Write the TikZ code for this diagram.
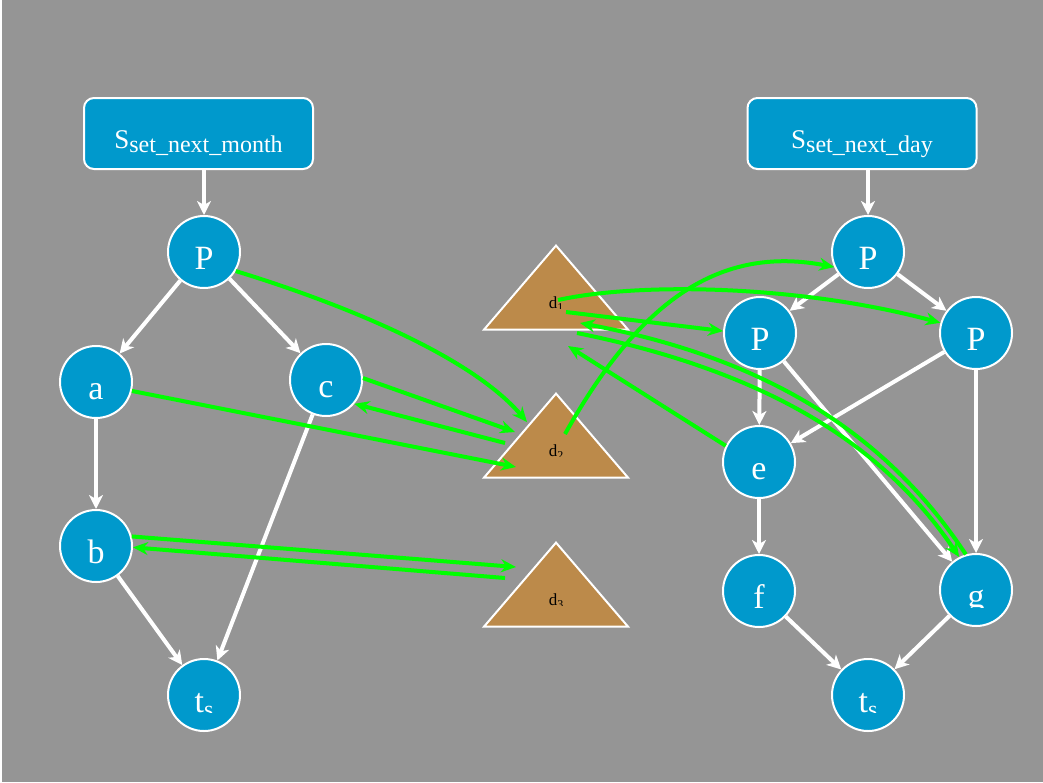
\documentclass[tikz,border=0pt]{standalone}
\usepackage{fontspec}
\setmainfont{Liberation Serif}
\usetikzlibrary{shapes.geometric,arrows.meta,calc}

\definecolor{bg}{HTML}{959595}
\definecolor{nodeblue}{HTML}{0099CC}
\definecolor{tribrown}{HTML}{BC8A4A}
\definecolor{linkgreen}{HTML}{00FF00}

% lowered subscript in its own size
\newcommand\subsc[3]{{\fontsize{#1}{#1}\selectfont\raisebox{-#2}{#3}}}

% text cut off at its own baseline: name, anchor node, baseline offset, style, text
\newcommand\basecut[5]{%
  \coordinate (#1-b) at ($(#2)+(0,#3)$);
  \begin{scope}
    \clip ($(#1-b)+(-40,-45)$) rectangle ($(#1-b)+(40,0)$);
    \node[#4,anchor=base,inner sep=0pt] (#1) at (#1-b) {#5};
  \end{scope}}

\begin{document}
\begin{tikzpicture}[x=1pt,y=-1pt,
  state/.style={circle,draw=white,line width=2pt,fill=nodeblue,minimum size=72pt,
    inner sep=0pt,text=white,font=\fontsize{34pt}{40pt}\selectfont,
    text height=34pt,text depth=0pt},
  header/.style={rectangle,rounded corners=10pt,draw=white,line width=2pt,
    fill=nodeblue,minimum width=229pt,minimum height=71pt,inner sep=0pt},
  headtext/.style={text=white,font=\fontsize{27pt}{30pt}\selectfont,
    inner sep=0pt,anchor=base},
  store/.style={isosceles triangle,isosceles triangle stretches,
    shape border rotate=90,minimum width=144pt,minimum height=84pt,
    draw=white,line width=2pt,fill=tribrown,inner sep=0pt,anchor=apex},
  circtext/.style={text=white,font=\fontsize{34pt}{40pt}\selectfont},
  tritext/.style={text=black,font=\fontsize{17pt}{20pt}\selectfont},
  flow/.style={draw=white,line width=4pt,-{Stealth[length=14pt,width=14pt,inset=4pt]}},
  link/.style={draw=linkgreen,line width=4pt,-{Stealth[length=15pt,width=13pt]}}
]
% canvas
\useasboundingbox (0,0) rectangle (1043,782);
\fill[white] (0,0) rectangle (1043,782);
\fill[bg] (2,0) rectangle (1043,782);

% ---- set_next_month graph ----
\node[header] (mbox) at (198.5,133.5) {};
\node[headtext] (mboxtext) at ($(mbox.center)+(0,14.5)$) {S\subsc{24pt}{4.5pt}{set\_next\_month}};
\node[state] (mP) at (204,252) {P};
\node[state] (ma) at (96,382) {a};
\node[state] (mc) at (326,380) {c};
\node[state] (mb) at (96,546) {b};
\node[state] (mts) at (204,695) {};
\basecut{mtstext}{mts}{17}{circtext}{t\subsc{24pt}{5pt}{s}}

% ---- set_next_day graph ----
\node[header] (dbox) at (862,133.5) {};
\node[headtext] (dboxtext) at ($(dbox.center)+(0,14.5)$) {S\subsc{24pt}{4.5pt}{set\_next\_day}};
\node[state] (dP0) at (868,252) {P};
\node[state] (dP1) at (760,333) {P};
\node[state] (dP2) at (976,333) {P};
\node[state] (de) at (759,462) {e};
\node[state] (df) at (759,591) {f};
\node[state] (dg) at (976,590) {};
\basecut{dgtext}{dg}{17}{circtext}{g}
\node[state] (dts) at (868,695) {};
\basecut{dtstext}{dts}{17}{circtext}{t\subsc{24pt}{5pt}{s}}

% ---- data stores ----
\node[store] (d1) at (556,243) {};
\node[store] (d2) at (556,391) {};
\node[store] (d3) at (556,540) {};
\basecut{d1text}{d1.apex}{65}{tritext}{d\subsc{12pt}{3pt}{1}}
\basecut{d2text}{d2.apex}{65}{tritext}{d\subsc{12pt}{3pt}{2}}
\basecut{d3text}{d3.apex}{65}{tritext}{d\subsc{12pt}{3pt}{3}}

% ---- control flow ----
\draw[flow] (mbox.south -| mP) -- (mP);
\draw[flow] (mP) -- (ma);
\draw[flow] (mP) -- (mc);
\draw[flow] (ma) -- (mb);
\draw[flow] (mb) -- (mts);
\draw[flow] (mc) -- (mts);

\draw[flow] (dbox.south -| dP0) -- (dP0);
\draw[flow] (dP0) -- (dP1);
\draw[flow] (dP0) -- (dP2);
\draw[flow] (dP1) -- (de);
\draw[flow] (dP1) -- (dg);
\draw[flow] (dP2) -- (de);
\draw[flow] (dP2) -- (dg);
\draw[flow] (de) -- (df);
\draw[flow] (df) -- (dts);
\draw[flow] (dg) -- (dts);

% ---- data links ----
\draw[link] (mP.-31) .. controls (340,303) and (470,355) .. ($(d2.apex)+(-29,31)$);
\draw[link] (ma.-14) -- ($(d2.apex)+(-40,76)$);
\draw[link] (mc.3) -- ($(d2.apex)+(-41,41)$);
\draw[link] ($(d2.apex)+(-51,52)$) -- (mc.-40);
\draw[link] (mb.15) -- ($(d3.apex)+(-40,27)$);
\draw[link] ($(d3.apex)+(-51,38)$) -- (mb.-2);

\draw[link] ($(d2.apex)+(9,43)$) .. controls (640,300) and (720,245) .. (dP0.-156);
\draw[link] ($(d1.apex)+(2,57)$) .. controls (640,282) and (800,285) .. (dP2.164);
\draw[link] ($(d1.apex)+(10,69)$) -- (dP1.177);
\draw[link] (de.154) -- ($(d1.apex)+(12,103)$);
\draw[link] ($(d1.apex)+(21,90)$) .. controls (760,370) and (880,440) .. (dg.117);
\draw[link] (dg.106) .. controls (885,432) and (765,358) .. ($(d1.apex)+(24,80)$);
\end{tikzpicture}
\end{document}
